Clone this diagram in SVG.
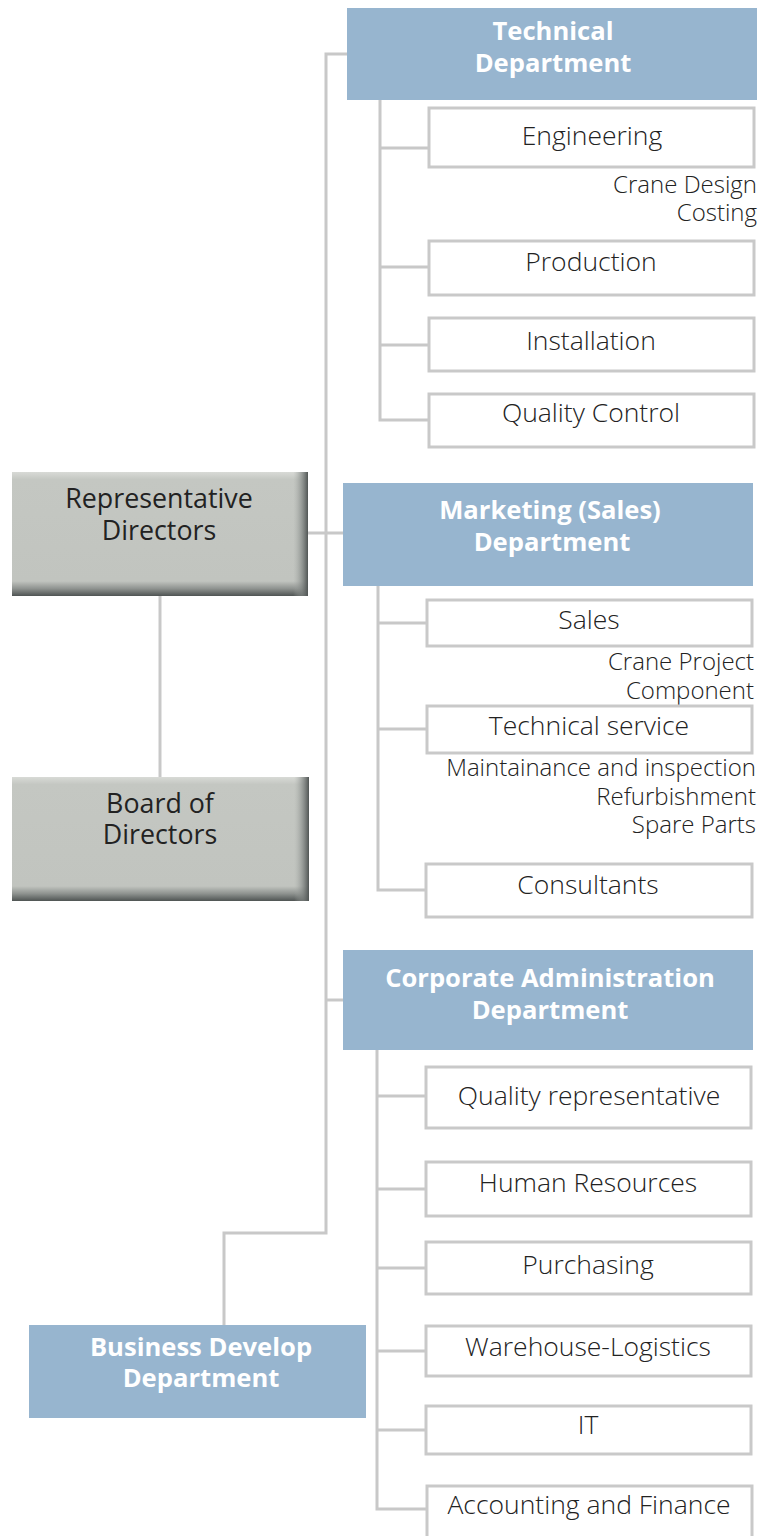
<svg xmlns="http://www.w3.org/2000/svg" width="774" height="1536" viewBox="0 0 774 1536">
<style>
.dept{fill:#97b5cf}
.sub{fill:#fff;stroke:#c9c9c9;stroke-width:3}
.conn{fill:none;stroke:#c8c8c8;stroke-width:3}
.dt{font-family:"Open Sans","Liberation Sans",sans-serif;font-size:25.6px;font-weight:700;fill:#fff;text-anchor:middle}
.st{font-family:"Open Sans","Liberation Sans",sans-serif;font-size:26.5px;font-weight:300;fill:#222;text-anchor:middle}
.ct{font-family:"Open Sans","Liberation Sans",sans-serif;font-size:24px;font-weight:300;fill:#222;text-anchor:end}
.gt{font-family:"Open Sans","Liberation Sans",sans-serif;font-size:26.8px;font-weight:400;fill:#222;text-anchor:middle}
</style>
<defs>
<linearGradient id="gv" x1="0" y1="0" x2="0" y2="1">
<stop offset="0" stop-color="#d8dad6"/>
<stop offset="0.06" stop-color="#c4c7c2"/>
<stop offset="0.88" stop-color="#c1c4bf"/>
<stop offset="0.94" stop-color="#8f9390"/>
<stop offset="1" stop-color="#4f5453"/>
</linearGradient>
<linearGradient id="gh" x1="0" y1="0" x2="1" y2="0">
<stop offset="0" stop-color="#c1c4bf" stop-opacity="0"/>
<stop offset="0.95" stop-color="#a8aca8" stop-opacity="0"/>
<stop offset="0.98" stop-color="#7d8280" stop-opacity="0.7"/>
<stop offset="1" stop-color="#505554" stop-opacity="1"/>
</linearGradient>
</defs>

<g id="connectors">
<path class="conn" d="M347 54H326V1233H224V1325"/>
<path class="conn" d="M308 533H343"/>
<path class="conn" d="M326 1000H343"/>
<path class="conn" d="M160 596V777"/>
<path class="conn" d="M380 100V420H429M380 148H429M380 267H429M380 345H429"/>
<path class="conn" d="M378 586V890H426M378 623H427M378 729H427"/>
<path class="conn" d="M377 1050V1509H426M377 1096H426M377 1189H426M377 1268H426M377 1351H426M377 1430H426"/>
</g>

<g id="rep-directors">
<rect x="12" y="472" width="296" height="124" fill="url(#gv)"/>
<rect x="12" y="472" width="296" height="124" fill="url(#gh)"/>
<text class="gt" x="159" y="508">Representative</text>
<text class="gt" x="159" y="540">Directors</text>
</g>

<g id="board-directors">
<rect x="12" y="777" width="297" height="124" fill="url(#gv)"/>
<rect x="12" y="777" width="297" height="124" fill="url(#gh)"/>
<text class="gt" x="160" y="813">Board of</text>
<text class="gt" x="160" y="844">Directors</text>
</g>

<g id="technical-dept">
<rect class="dept" x="347" y="8" width="410" height="92"/>
<text class="dt" x="553" y="40">Technical</text>
<text class="dt" x="553" y="72">Department</text>
</g>
<g id="engineering">
<rect class="sub" x="429" y="108" width="325" height="59"/>
<text class="st" x="592" y="145">Engineering</text>
<text class="ct" x="757" y="193">Crane Design</text>
<text class="ct" x="757" y="221">Costing</text>
</g>
<g id="production">
<rect class="sub" x="429" y="241" width="325" height="54"/>
<text class="st" x="591" y="271">Production</text>
</g>
<g id="installation">
<rect class="sub" x="429" y="318" width="325" height="53"/>
<text class="st" x="591" y="350">Installation</text>
</g>
<g id="quality-control">
<rect class="sub" x="429" y="394" width="325" height="53"/>
<text class="st" x="591" y="422">Quality Control</text>
</g>

<g id="marketing-dept">
<rect class="dept" x="343" y="483" width="410" height="103"/>
<text class="dt" x="550" y="519">Marketing (Sales)</text>
<text class="dt" x="552" y="551">Department</text>
</g>
<g id="sales">
<rect class="sub" x="427" y="600" width="325" height="46"/>
<text class="st" x="589" y="629">Sales</text>
<text class="ct" x="754" y="670">Crane Project</text>
<text class="ct" x="754" y="699">Component</text>
</g>
<g id="technical-service">
<rect class="sub" x="427" y="706" width="325" height="47"/>
<text class="st" x="589" y="735">Technical service</text>
<text class="ct" x="756" y="776">Maintainance and inspection</text>
<text class="ct" x="756" y="805">Refurbishment</text>
<text class="ct" x="756" y="833">Spare Parts</text>
</g>
<g id="consultants">
<rect class="sub" x="426" y="864" width="326" height="53"/>
<text class="st" x="588" y="894">Consultants</text>
</g>

<g id="corporate-dept">
<rect class="dept" x="343" y="950" width="410" height="100"/>
<text class="dt" x="550" y="987">Corporate Administration</text>
<text class="dt" x="550" y="1019">Department</text>
</g>
<g id="quality-rep">
<rect class="sub" x="426" y="1067" width="325" height="61"/>
<text class="st" x="589" y="1105">Quality representative</text>
</g>
<g id="human-resources">
<rect class="sub" x="426" y="1162" width="325" height="54"/>
<text class="st" x="588" y="1192">Human Resources</text>
</g>
<g id="purchasing">
<rect class="sub" x="426" y="1242" width="325" height="52"/>
<text class="st" x="588" y="1274">Purchasing</text>
</g>
<g id="warehouse">
<rect class="sub" x="426" y="1326" width="325" height="50"/>
<text class="st" x="588" y="1356">Warehouse-Logistics</text>
</g>
<g id="it">
<rect class="sub" x="426" y="1406" width="325" height="48"/>
<text class="st" x="588" y="1434">IT</text>
</g>
<g id="accounting">
<rect class="sub" x="427" y="1486" width="325" height="56"/>
<text class="st" x="589" y="1514">Accounting and Finance</text>
</g>

<g id="business-dept">
<rect class="dept" x="29" y="1325" width="337" height="93"/>
<text class="dt" x="201" y="1356">Business Develop</text>
<text class="dt" x="201" y="1387">Department</text>
</g>
</svg>
